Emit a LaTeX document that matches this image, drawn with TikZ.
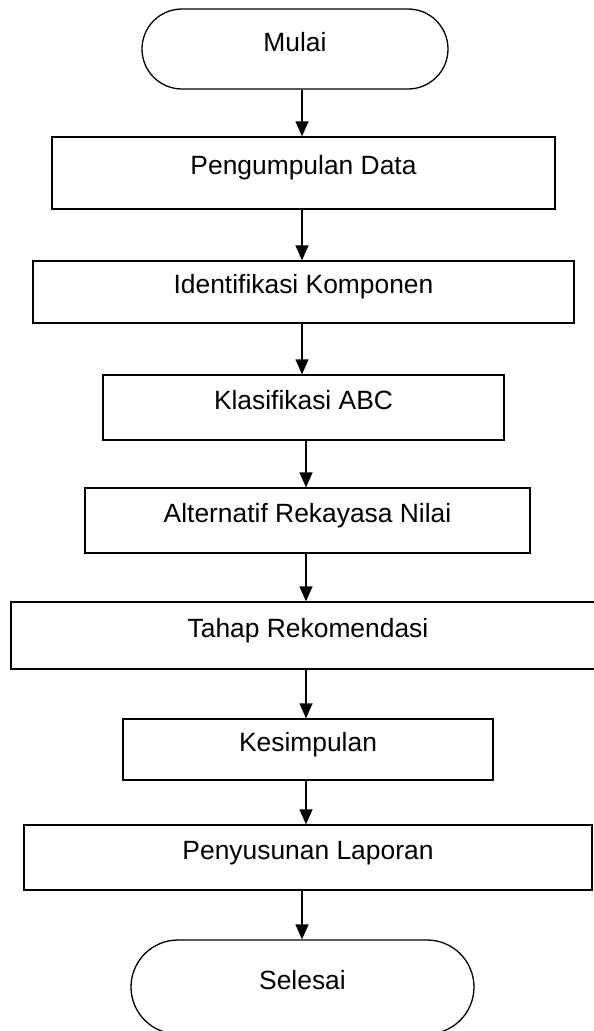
\documentclass[tikz,border=0pt]{standalone}
\usepackage{fontspec}
\setmainfont{Liberation Sans}
\usetikzlibrary{arrows.meta, positioning, calc}
\tikzset{
  termbox/.style={rectangle, rounded corners=#1, draw=black, line width=1.3pt,
              inner sep=0pt, text height=0.72em, text depth=0.15em},
  termbox/.default=40pt,
  procbox/.style={rectangle, draw=black, line width=1.3pt, minimum width=#1,
              inner sep=0pt, text height=0.72em, text depth=0.35em},
  procbox/.default=400pt,
  arrow/.style={-{Triangle[length=15pt, width=13pt]}, line width=1.3pt},
}

\begin{document}
\begin{tikzpicture}[x=1pt, y=-1pt, font=\fontsize{26.4}{30}\selectfont]
  \useasboundingbox (0,0) rectangle (594,1031);
  % Start / end
  \node[termbox=40pt, minimum width=306pt, minimum height=80pt] (mulai) at (295,49) {Mulai};
  \node[termbox=47pt, minimum width=343pt, minimum height=94pt] (selesai) at (302.5,987) {Selesai};
  % Steps
  \node[procbox=503pt, minimum height=72pt] (pengumpulan) at (303.5,173) {Pengumpulan Data};
  \node[procbox=541pt, minimum height=62pt] (identifikasi) at (303.5,292) {Identifikasi Komponen};
  \node[procbox=401pt, minimum height=65pt] (klasifikasi) at (303.5,407.5) {Klasifikasi ABC};
  \node[procbox=445pt, minimum height=65pt] (alternatif) at (307.5,520.5) {Alternatif Rekayasa Nilai};
  \node[procbox=594pt, minimum height=67pt] (tahap) at (308,635.5) {Tahap Rekomendasi};
  \node[procbox=370pt, minimum height=61pt] (kesimpulan) at (308,749.5) {Kesimpulan};
  \node[procbox=568pt, minimum height=65pt] (penyusunan) at (308,857.5) {Penyusunan Laporan};
  % Arrow lines
  \coordinate (axisA) at (302,0);
  \coordinate (axisB) at (306,0);
  \foreach \from/\to/\ax in {mulai/pengumpulan/axisA, pengumpulan/identifikasi/axisA,
      identifikasi/klasifikasi/axisA, klasifikasi/alternatif/axisB,
      alternatif/tahap/axisB, tahap/kesimpulan/axisB,
      kesimpulan/penyusunan/axisB, penyusunan/selesai/axisA}{
    \draw[arrow] (\from.south -| \ax) -- (\to.north -| \ax);
  }
\end{tikzpicture}
\end{document}
